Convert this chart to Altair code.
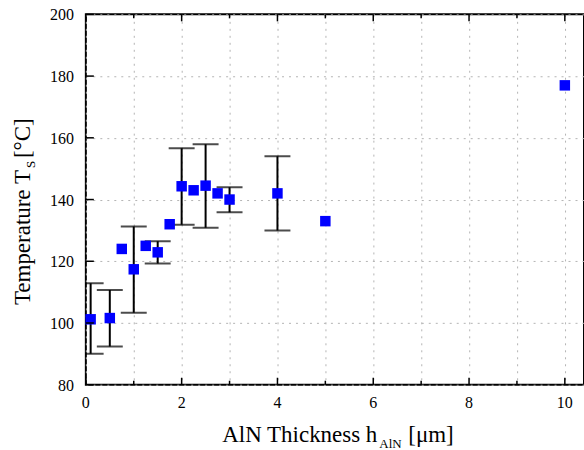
import altair as alt
import pandas as pd

# ---- data ----
thickness = [0.1, 0.5, 0.75, 1.0, 1.25, 1.5, 1.75, 2.0, 2.25, 2.5, 2.75, 3.0, 4.0, 5.0, 10.0]
temperature = [101.2, 101.6, 124.0, 117.4, 125.0, 122.9, 132.0, 144.3, 143.0, 144.5, 142.0, 140.0, 142.0, 133.0, 177.0]

err_x = [0.1, 0.5, 1.0, 1.5, 2.0, 2.5, 3.0, 4.0]
err_low = [90.0, 92.4, 103.3, 119.3, 131.8, 130.9, 135.9, 130.0]
err_high = [112.9, 110.7, 131.3, 126.5, 156.6, 157.9, 144.0, 154.0]

x_major = [0, 2, 4, 6, 8, 10]
x_minor = [1, 3, 5, 7, 9]
x_grid = [0, 1, 2, 3, 4, 5, 6, 7, 8, 9, 10]
y_major = [80, 100, 120, 140, 160, 180, 200]

FONT = "Liberation Serif"
W, H = 499, 371

pts = pd.DataFrame({"x": thickness, "y": temperature})
errs = pd.DataFrame({"x": err_x, "lo": err_low, "hi": err_high})
xmaj = pd.DataFrame({"x": x_major, "t": [str(v) for v in x_major]})
xmin = pd.DataFrame({"x": x_minor})
ymaj = pd.DataFrame({"y": y_major, "t": [str(v) for v in y_major]})

xscale = alt.Scale(domain=[0, 10.4], nice=False, zero=False)
yscale = alt.Scale(domain=[80, 200], nice=False, zero=False)

xaxis = alt.Axis(values=x_grid, title=None, ticks=False, labels=False, domain=False, grid=True,
                 gridColor="#b4b4b4", gridDash=[2, 5], gridWidth=1)
yaxis = alt.Axis(values=y_major, title=None, ticks=False, labels=False, domain=False, grid=True,
                 gridColor="#b4b4b4", gridDash=[2, 5], gridWidth=1)

bars = alt.Chart(errs).mark_rule(color="black", strokeWidth=2, clip=True).encode(
    x=alt.X("x:Q", scale=xscale, axis=xaxis),
    y=alt.Y("lo:Q", scale=yscale, axis=yaxis),
    y2="hi:Q")
cap_lo = alt.Chart(errs).mark_tick(color="black", orient="horizontal", size=26, thickness=2, clip=True).encode(
    x=alt.X("x:Q", scale=xscale), y=alt.Y("lo:Q", scale=yscale))
cap_hi = alt.Chart(errs).mark_tick(color="black", orient="horizontal", size=26, thickness=2, clip=True).encode(
    x=alt.X("x:Q", scale=xscale), y=alt.Y("hi:Q", scale=yscale))

points = alt.Chart(pts).mark_square(size=110, color="#0000ff", opacity=1).encode(
    x=alt.X("x:Q", scale=xscale),
    y=alt.Y("y:Q", scale=yscale),
)

# inward axis ticks
bt_major = alt.Chart(xmaj).mark_rule(color="black", strokeWidth=1.5).encode(
    x=alt.X("x:Q", scale=xscale), y=alt.value(H), y2=alt.value(H - 7))
bt_minor = alt.Chart(xmin).mark_rule(color="black", strokeWidth=1.5).encode(
    x=alt.X("x:Q", scale=xscale), y=alt.value(H), y2=alt.value(H - 4))
tt_major = alt.Chart(xmaj).mark_rule(color="black", strokeWidth=1.5).encode(
    x=alt.X("x:Q", scale=xscale), y=alt.value(0), y2=alt.value(7))
tt_minor = alt.Chart(xmin).mark_rule(color="black", strokeWidth=1.5).encode(
    x=alt.X("x:Q", scale=xscale), y=alt.value(0), y2=alt.value(4))
lt_major = alt.Chart(ymaj).mark_rule(color="black", strokeWidth=1.5).encode(
    y=alt.Y("y:Q", scale=yscale), x=alt.value(0), x2=alt.value(8))

# tick labels (serif)
xlab = alt.Chart(xmaj).mark_text(font=FONT, fontSize=16, color="black", align="center",
                                 baseline="alphabetic").encode(
    x=alt.X("x:Q", scale=xscale), y=alt.value(H + 23), text="t:N")
ylab = alt.Chart(ymaj).mark_text(font=FONT, fontSize=16, color="black", align="right",
                                 baseline="middle", dy=1).encode(
    y=alt.Y("y:Q", scale=yscale), x=alt.value(-12), text="t:N")

one = pd.DataFrame({"a": [0]})

def txt(s, x, y, size, align, angle=0):
    return alt.Chart(one).mark_text(text=s, font=FONT, fontSize=size, color="black",
                                    align=align, baseline="alphabetic", angle=angle).encode(
        x=alt.value(x), y=alt.value(y))

# x title: "AlN Thickness h_AlN [μm]"
xt1 = txt("AlN Thickness h", 292, 428, 23, "right")
xt2 = txt("AlN", 294, 434, 13, "left")
xt3 = txt("[μm]", 323, 428, 23, "left")
# y title: "Temperature T_S [°C]"
yt1 = txt("Temperature T", -56, 156, 23, "right", 270)
yt2 = txt("S", -51, 154, 13, "left", 270)
yt3 = txt("[°C]", -56, 144, 23, "left", 270)

chart = alt.layer(
    bars, cap_lo, cap_hi, points,
    bt_major, bt_minor, tt_major, tt_minor, lt_major,
    xlab, ylab,
    xt1, xt2, xt3, yt1, yt2, yt3,
).properties(
    width=W, height=H,
    autosize=alt.AutoSizeParams(type="none"),
    padding={"left": 86, "top": 14, "right": 0, "bottom": 65},
).configure(
    background="white"
).configure_view(
    stroke="black", strokeWidth=2
)

chart.save("out.html", embed_options={"renderer": "svg", "actions": False})
